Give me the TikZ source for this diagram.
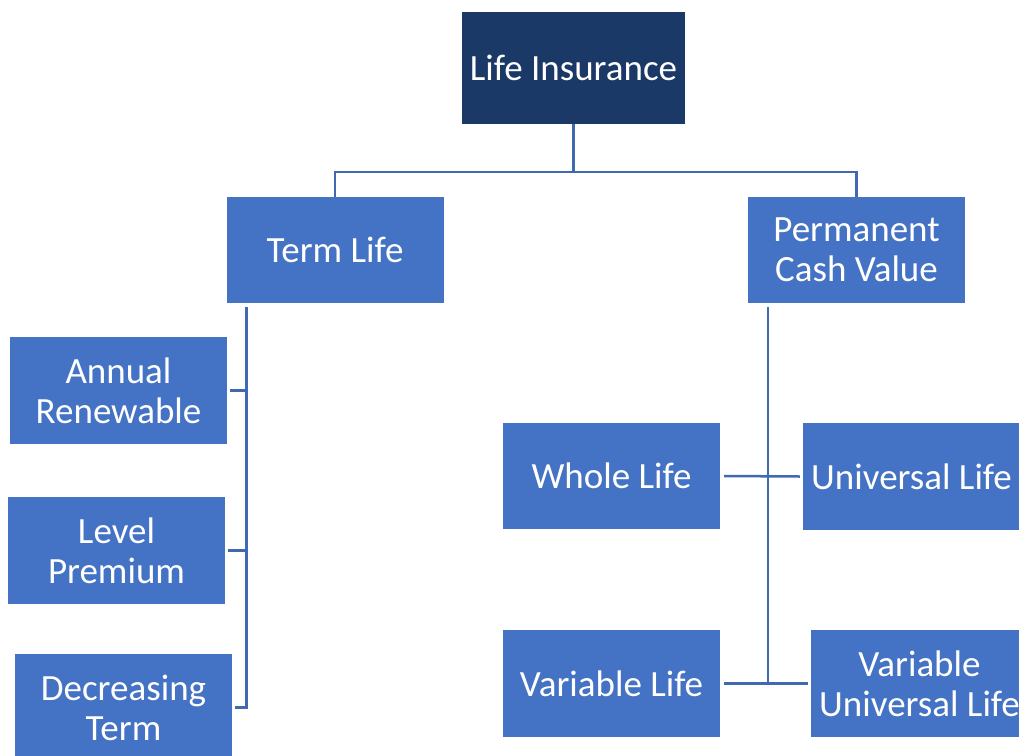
\documentclass[tikz,border=0pt]{standalone}
\usepackage{fontspec}
\setmainfont{Carlito}
\definecolor{boxblue}{HTML}{4472C4}
\definecolor{navy}{HTML}{1B3966}
\definecolor{linkblue}{HTML}{4169B2}
\begin{document}
\begin{tikzpicture}[x=1pt,y=-1pt,
  box/.style={fill=boxblue,text=white,minimum width=217pt,minimum height=107pt,
    inner sep=0pt,align=center,font=\fontsize{37}{40}\selectfont},
  topbox/.style={box,fill=navy,minimum width=223pt,minimum height=112pt},
  link/.style={draw=linkblue,line width=2.5pt}]
\useasboundingbox (0,0) rectangle (1019,755);
\clip (0,0) rectangle (1019,755);
\node[topbox] (li) at (573.5,68) {Life Insurance};
\node[box,minimum height=106pt] (tl) at (335,250) {Term Life};
\node[box,minimum height=106pt] (pc) at (856.5,250) {Permanent\\Cash Value};
\node[box] (ar) at (118.5,390.5) {Annual\\Renewable};
\node[box] (lp) at (116.5,550.5) {Level\\Premium};
\node[box] (dt) at (123.5,707.5) {Decreasing\\Term};
\node[box,minimum height=106pt] (wl) at (611.5,476) {Whole Life};
\node[box] (ul) at (911.5,476.5) {Universal Life};
\node[box] (vl) at (611.5,683.5) {Variable Life};
\node[box] (vul) at (919.5,683.5) {Variable\\Universal Life};
% top connectors
\draw[link] (li.south) -- ++(0,48) -| (tl.north);
\draw[link] (li.south) ++(0,48) -| (pc.north);
% term life branch
\coordinate (tv) at ([xshift=20pt,yshift=-4pt]tl.south west);
\draw[link] (tv) -- (tv |- dt.east) -- ([xshift=3pt]dt.east);
\draw[link] ([xshift=3pt]ar.east) -- (ar.east -| tv);
\draw[link] ([xshift=3pt]lp.east) -- (lp.east -| tv);
% permanent branch
\coordinate (pv) at ([xshift=20pt,yshift=-4pt]pc.south west);
\draw[link] (pv) -- (pv |- vl.east);
\draw[link] ([xshift=4pt]wl.east) -- ([xshift=-3pt]ul.west);
\draw[link] ([xshift=4pt]vl.east) -- ([xshift=-3pt]vul.west);
\end{tikzpicture}
\end{document}
